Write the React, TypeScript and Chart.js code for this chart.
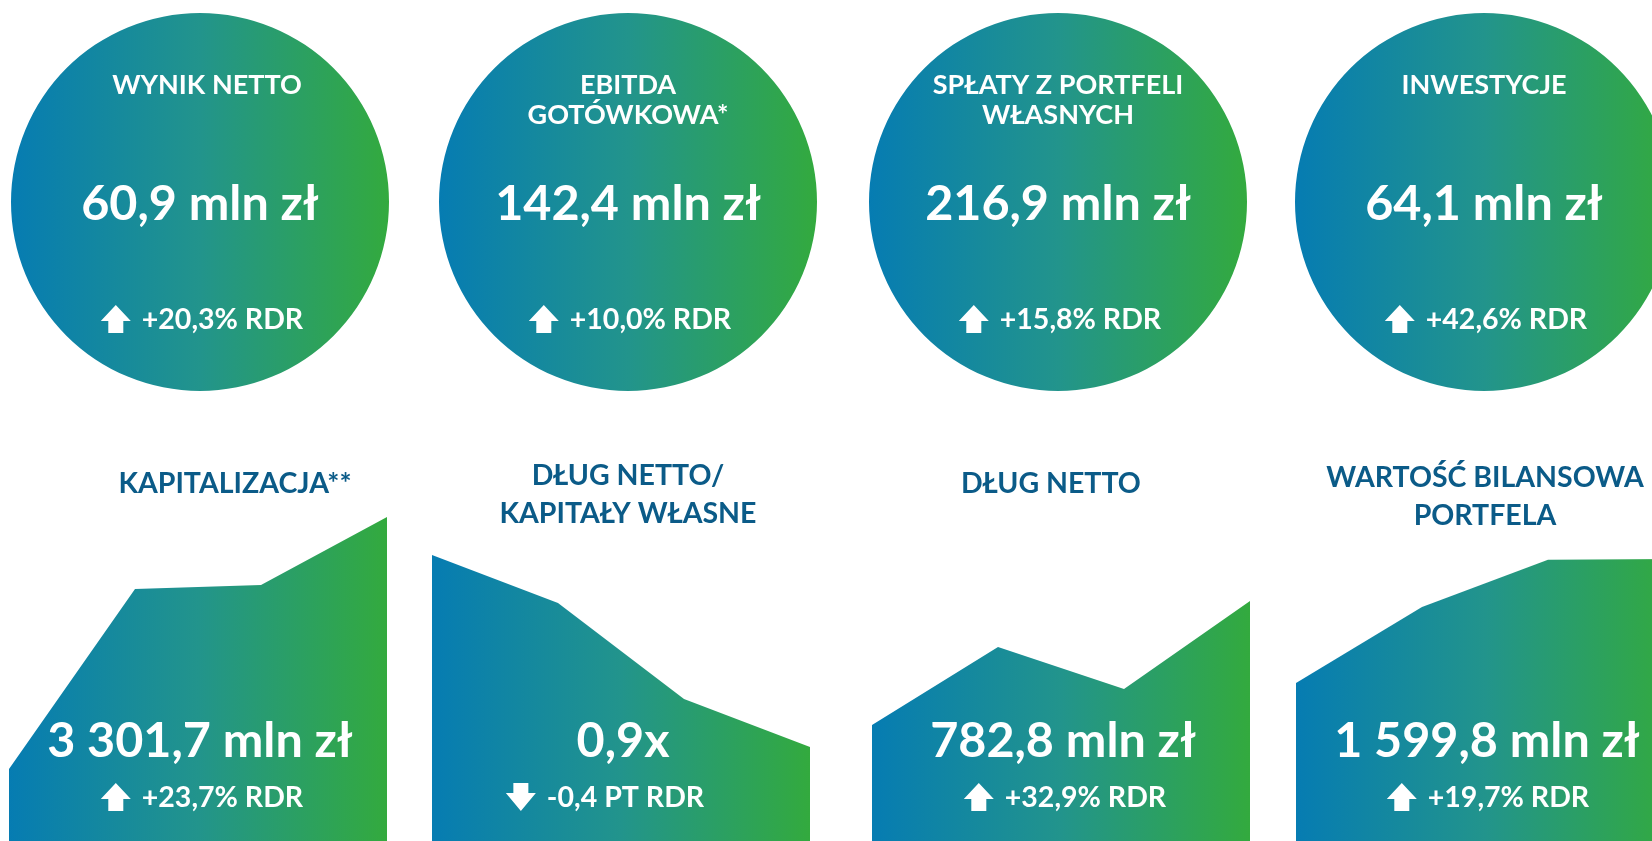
import React, { useEffect, useRef } from "react";
import { Chart, registerables } from "chart.js";

Chart.register(...registerables);

// ---------- DATA ----------
const circleTitles: string[][] = [
  ["WYNIK NETTO"],
  ["EBITDA", "GOTÓWKOWA*"],
  ["SPŁATY Z PORTFELI", "WŁASNYCH"],
  ["INWESTYCJE"],
];
const circleValues = ["60,9 mln zł", "142,4 mln zł", "216,9 mln zł", "64,1 mln zł"];
const circleChanges = ["+20,3% RDR", "+10,0% RDR", "+15,8% RDR", "+42,6% RDR"];
const circleDirections = ["up", "up", "up", "up"];

const areaTitles: string[][] = [
  ["KAPITALIZACJA**"],
  ["DŁUG NETTO/", "KAPITAŁY WŁASNE"],
  ["DŁUG NETTO"],
  ["WARTOŚĆ BILANSOWA", "PORTFELA"],
];
const areaValues = ["3 301,7 mln zł", "0,9x", "782,8 mln zł", "1 599,8 mln zł"];
const areaChanges = ["+23,7% RDR", "-0,4 PT RDR", "+32,9% RDR", "+19,7% RDR"];
const areaDirections = ["up", "down", "up", "up"];

// trend shapes (relative index, 0-100), four periods each
const periods = ["P1", "P2", "P3", "P4"];
const kapitalizacjaTrend = [18, 63, 64, 81];
const dlugKapitalTrend = [71.5, 59.5, 35.5, 23.5];
const dlugNettoTrend = [29, 48.5, 38, 60];
const wartoscTrend = [39.5, 58.5, 70.3, 70.5];
const areaTrends = [kapitalizacjaTrend, dlugKapitalTrend, dlugNettoTrend, wartoscTrend];

// ---------- STYLE / LAYOUT ----------
const FONT = "Lato, 'Open Sans', sans-serif";
const CAP = 0.72;
const BLUE = "#067cb2";
const TEAL = "#22948c";
const GREEN = "#33aa3e";
const TITLE = "#0b5b88";
const WHITE = "#ffffff";

const VALUE_SIZE = 48.5;
const CHANGE_SIZE = 28.5;
const CIRCLE_TITLE_SIZE = 27;
const AREA_TITLE_SIZE = 28.5;

const CIRCLE_R = 189;
const circleCenters = [200, 628, 1058, 1484];
const CIRCLE_TOP = 13;
const circleTitleDx = [7, 0, 0, 0];

const areaLefts = [9, 432, 872, 1296];
const AREA_TOP = 441;
const AREA_W = 378;
const AREA_H = 400;
const areaTitleX = [226, 196, 179, 189];
const areaTitleY: number[][] = [[42], [34, 72], [42], [36, 74]];
const areaChangeX = [193, 173, 193, 192];

function gradient(ctx: CanvasRenderingContext2D, l: number, r: number) {
  const g = ctx.createLinearGradient(l, 0, r, 0);
  g.addColorStop(0, BLUE);
  g.addColorStop(0.5, TEAL);
  g.addColorStop(1, GREEN);
  return g;
}

function label(ctx: CanvasRenderingContext2D, text: string, x: number, cy: number, size: number, color: string) {
  ctx.font = `bold ${size}px ${FONT}`;
  ctx.fillStyle = color;
  ctx.textAlign = "center";
  ctx.textBaseline = "alphabetic";
  ctx.fillText(text, x, cy + (size * CAP) / 2);
}

function drawArrow(ctx: CanvasRenderingContext2D, x: number, cy: number, dir: string) {
  const w = 30, h = 28, stem = 15;
  const head = dir === "up" ? 16 : 18;
  const top = cy - h / 2;
  const mid = x + w / 2;
  ctx.fillStyle = WHITE;
  ctx.beginPath();
  if (dir === "up") {
    ctx.moveTo(mid, top);
    ctx.lineTo(x + w, top + head);
    ctx.lineTo(mid + stem / 2, top + head);
    ctx.lineTo(mid + stem / 2, top + h);
    ctx.lineTo(mid - stem / 2, top + h);
    ctx.lineTo(mid - stem / 2, top + head);
    ctx.lineTo(x, top + head);
  } else {
    ctx.moveTo(mid, top + h);
    ctx.lineTo(x + w, top + h - head);
    ctx.lineTo(mid + stem / 2, top + h - head);
    ctx.lineTo(mid + stem / 2, top);
    ctx.lineTo(mid - stem / 2, top);
    ctx.lineTo(mid - stem / 2, top + h - head);
    ctx.lineTo(x, top + h - head);
  }
  ctx.closePath();
  ctx.fill();
}

function changeRow(ctx: CanvasRenderingContext2D, text: string, cx: number, cy: number, dir: string) {
  const size = CHANGE_SIZE;
  ctx.font = `bold ${size}px ${FONT}`;
  const tw = ctx.measureText(text).width;
  const total = 30 + 11 + tw;
  const start = cx - total / 2;
  drawArrow(ctx, start, cy, dir);
  ctx.fillStyle = WHITE;
  ctx.textAlign = "left";
  ctx.textBaseline = "alphabetic";
  ctx.fillText(text, start + 41, cy + (size * CAP) / 2);
}

function Circle({ i }: { i: number }) {
  const ref = useRef<HTMLCanvasElement>(null);
  useEffect(() => {
    const canvas = ref.current!;
    const textPlugin = {
      id: "circleText",
      afterDraw(chart: any) {
        const ctx = chart.ctx as CanvasRenderingContext2D;
        ctx.save();
        const cx = CIRCLE_R;
        circleTitles[i].forEach((t, k) => label(ctx, t, cx + circleTitleDx[i], 71 + k * 30, CIRCLE_TITLE_SIZE, WHITE));
        label(ctx, circleValues[i], cx, 190, VALUE_SIZE, WHITE);
        changeRow(ctx, circleChanges[i], cx + 2, 306, circleDirections[i]);
        ctx.restore();
      },
    };
    const chart = new Chart(canvas, {
      type: "pie",
      data: {
        labels: [circleTitles[i].join(" ")],
        datasets: [
          {
            data: [1],
            borderWidth: 0,
            offset: 0,
            hoverOffset: 0,
            backgroundColor: (c: any) => {
              const ca = c.chart.chartArea;
              if (!ca) return BLUE;
              return gradient(c.chart.ctx, ca.left, ca.right);
            },
          },
        ],
      },
      options: {
        animation: false,
        responsive: false,
        layout: { padding: 0 },
        plugins: { legend: { display: false }, tooltip: { enabled: false } },
        events: [],
      },
      plugins: [textPlugin],
    } as any);
    return () => chart.destroy();
  }, [i]);
  return (
    <canvas
      ref={ref}
      width={CIRCLE_R * 2}
      height={CIRCLE_R * 2}
      style={{ position: "absolute", left: circleCenters[i] - CIRCLE_R, top: CIRCLE_TOP, width: CIRCLE_R * 2, height: CIRCLE_R * 2 }}
    />
  );
}

function Area({ i }: { i: number }) {
  const ref = useRef<HTMLCanvasElement>(null);
  useEffect(() => {
    const canvas = ref.current!;
    const textPlugin = {
      id: "areaText",
      afterDraw(chart: any) {
        const ctx = chart.ctx as CanvasRenderingContext2D;
        ctx.save();
        areaTitles[i].forEach((t, k) => label(ctx, t, areaTitleX[i], areaTitleY[i][k], AREA_TITLE_SIZE, TITLE));
        label(ctx, areaValues[i], 191, 299, VALUE_SIZE, WHITE);
        changeRow(ctx, areaChanges[i], areaChangeX[i], 356, areaDirections[i]);
        ctx.restore();
      },
    };
    const chart = new Chart(canvas, {
      type: "line",
      data: {
        labels: periods,
        datasets: [
          {
            data: areaTrends[i],
            fill: "start",
            borderWidth: 0,
            borderColor: "rgba(0,0,0,0)",
            pointRadius: 0,
            tension: 0,
            backgroundColor: (c: any) => {
              const ca = c.chart.chartArea;
              if (!ca) return BLUE;
              return gradient(c.chart.ctx, ca.left, ca.right);
            },
          },
        ],
      },
      options: {
        animation: false,
        responsive: false,
        layout: { padding: 0 },
        events: [],
        plugins: { legend: { display: false }, tooltip: { enabled: false } },
        scales: {
          x: { display: false, offset: false },
          y: { display: false, min: 0, max: 100 },
        },
      },
      plugins: [textPlugin],
    } as any);
    return () => chart.destroy();
  }, [i]);
  return (
    <canvas
      ref={ref}
      width={AREA_W}
      height={AREA_H}
      style={{ position: "absolute", left: areaLefts[i], top: AREA_TOP, width: AREA_W, height: AREA_H }}
    />
  );
}

export default function App() {
  return (
    <div
      style={{
        position: "absolute",
        left: 0,
        top: 0,
        width: 1652,
        height: 841,
        overflow: "hidden",
        background: "#ffffff",
      }}
    >
      {[0, 1, 2, 3].map((i) => (
        <Circle key={"c" + i} i={i} />
      ))}
      {[0, 1, 2, 3].map((i) => (
        <Area key={"a" + i} i={i} />
      ))}
    </div>
  );
}
